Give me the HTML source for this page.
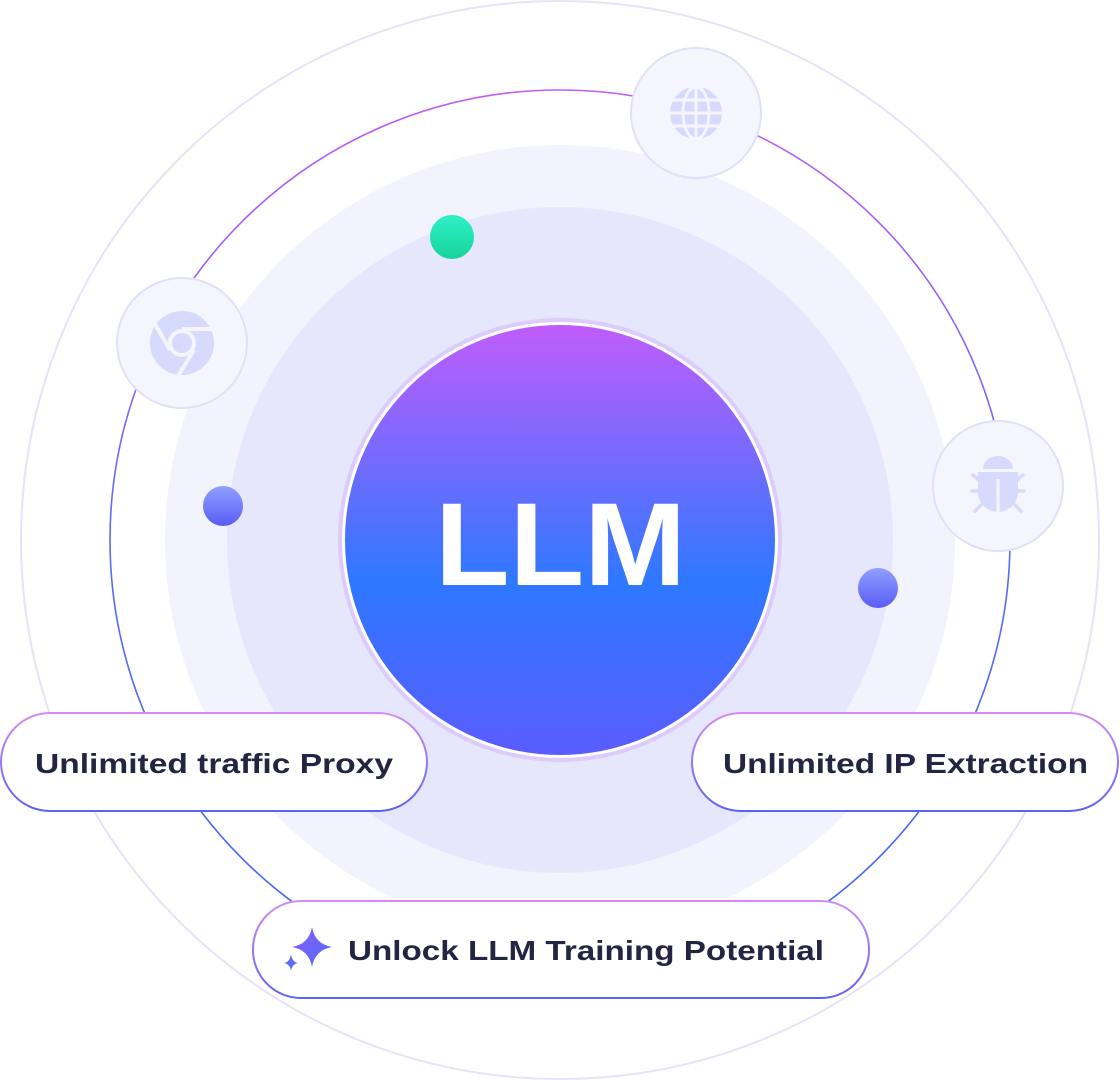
<!DOCTYPE html>
<html><head><meta charset="utf-8"><style>
html,body{margin:0;padding:0;background:#fff;width:1120px;height:1080px;overflow:hidden}
svg{display:block}
text{font-family:"Liberation Sans",sans-serif}
</style></head><body>
<svg width="1120" height="1080" viewBox="0 0 1120 1080" xmlns="http://www.w3.org/2000/svg">
<defs>
<linearGradient id="ring" x1="0" y1="0" x2="0" y2="1">
<stop offset="0" stop-color="#c35bf5"/><stop offset="0.5" stop-color="#5b6cf7"/><stop offset="1" stop-color="#3b63f5"/></linearGradient>
<linearGradient id="main" x1="0" y1="0" x2="0" y2="1">
<stop offset="0" stop-color="#c05cfb"/><stop offset="0.6" stop-color="#2e78ff"/><stop offset="1" stop-color="#5a5cff"/></linearGradient>
<linearGradient id="dot" x1="0" y1="0" x2="0" y2="1">
<stop offset="0" stop-color="#8fa0ff"/><stop offset="1" stop-color="#5a5cf5"/></linearGradient>
<linearGradient id="green" x1="0" y1="0" x2="0" y2="1">
<stop offset="0" stop-color="#2ef0c8"/><stop offset="1" stop-color="#18d49a"/></linearGradient>
<linearGradient id="pill" x1="0" y1="0" x2="0" y2="1">
<stop offset="0" stop-color="#d58bf5"/><stop offset="1" stop-color="#5b63f5"/></linearGradient>
<linearGradient id="star" x1="0" y1="0" x2="1" y2="1">
<stop offset="0" stop-color="#8b5cf6"/><stop offset="1" stop-color="#4f6cf7"/></linearGradient>
</defs>
<circle cx="560" cy="540" r="539" fill="none" stroke="#e6e3f8" stroke-width="2"/>
<circle cx="560" cy="540" r="450" fill="none" stroke="url(#ring)" stroke-width="1.6"/>
<circle cx="560" cy="540" r="395" fill="#f3f3fd"/>
<circle cx="560" cy="540" r="333" fill="#e6e6fc"/>
<rect x="380" y="898" width="360" height="30" fill="#fff"/>
<circle cx="560" cy="540" r="222" fill="#dccbfb"/>
<circle cx="560" cy="540" r="218" fill="#fff"/>
<circle cx="560" cy="540" r="215" fill="url(#main)"/>
<text x="435" y="585" textLength="251" lengthAdjust="spacingAndGlyphs" font-size="118" font-weight="bold" fill="#fff">LLM</text>
<circle cx="452" cy="237" r="22" fill="url(#green)"/>
<circle cx="223" cy="506" r="20" fill="url(#dot)"/>
<circle cx="878" cy="588" r="20" fill="url(#dot)"/>
<!-- globe -->
<circle cx="696" cy="113" r="65" fill="#f5f5fe" stroke="#e0e0f8" stroke-width="2"/>
<circle cx="696" cy="113" r="26" fill="#d6dafc"/>
<g stroke="#f5f5fe" stroke-width="3" fill="none">
<line x1="670" y1="113" x2="722" y2="113"/><line x1="696" y1="87" x2="696" y2="139"/>
<line x1="673" y1="100" x2="719" y2="100"/><line x1="673" y1="126" x2="719" y2="126"/>
<ellipse cx="696" cy="113" rx="13" ry="26"/>
</g>
<!-- chrome -->
<circle cx="182" cy="343" r="65" fill="#f5f5fe" stroke="#e0e0f8" stroke-width="2"/>
<circle cx="182" cy="343" r="32" fill="#d6dafc"/>
<circle cx="182" cy="343" r="14" fill="#f5f5fe"/>
<circle cx="182" cy="343" r="10" fill="#d6dafc"/>
<g stroke="#f5f5fe" stroke-width="4"><line x1="182" y1="329" x2="212" y2="329"/><line x1="170" y1="350" x2="155" y2="324"/><line x1="194" y1="350" x2="178" y2="376"/></g>
<!-- bug -->
<circle cx="998" cy="486" r="65" fill="#f5f5fe" stroke="#e0e0f8" stroke-width="2"/>
<g fill="#d6dafc"><path d="M983 469 a15 13 0 0 1 30 0z"/><path d="M978 472 h40 v20 a20 20 0 0 1 -40 0z"/></g>
<g stroke="#d6dafc" stroke-width="3.5" stroke-linecap="round"><line x1="972" y1="491" x2="980" y2="491"/><line x1="1016" y1="491" x2="1024" y2="491"/><line x1="973" y1="475" x2="979" y2="480"/><line x1="1023" y1="475" x2="1017" y2="480"/><line x1="975" y1="511" x2="981" y2="505"/><line x1="1021" y1="511" x2="1015" y2="505"/></g>
<line x1="998" y1="479" x2="998" y2="514" stroke="#f5f5fe" stroke-width="3"/>
<!-- pills -->
<rect x="1" y="713" width="426" height="98" rx="49" fill="#fff" stroke="url(#pill)" stroke-width="2"/>
<text x="35" y="773" textLength="358" lengthAdjust="spacingAndGlyphs" font-size="28" font-weight="bold" fill="#232642">Unlimited traffic Proxy</text>
<rect x="692" y="713" width="426" height="98" rx="49" fill="#fff" stroke="url(#pill)" stroke-width="2"/>
<text x="723" y="773" textLength="365" lengthAdjust="spacingAndGlyphs" font-size="28" font-weight="bold" fill="#232642">Unlimited IP Extraction</text>
<rect x="253" y="901" width="616" height="97" rx="48" fill="#fff" stroke="url(#pill)" stroke-width="2"/>
<path d="M312 927 Q315 944 332 947 Q315 950 312 967 Q309 950 292 947 Q309 944 312 927z" fill="url(#star)"/>
<path d="M291 954 Q292 962 298 963 Q292 964 291 971 Q290 964 284 963 Q290 962 291 954z" fill="#5b6cf7"/>
<text x="348" y="960" textLength="476" lengthAdjust="spacingAndGlyphs" font-size="28" font-weight="bold" fill="#232642">Unlock LLM Training Potential</text>
</svg>
</body></html>
